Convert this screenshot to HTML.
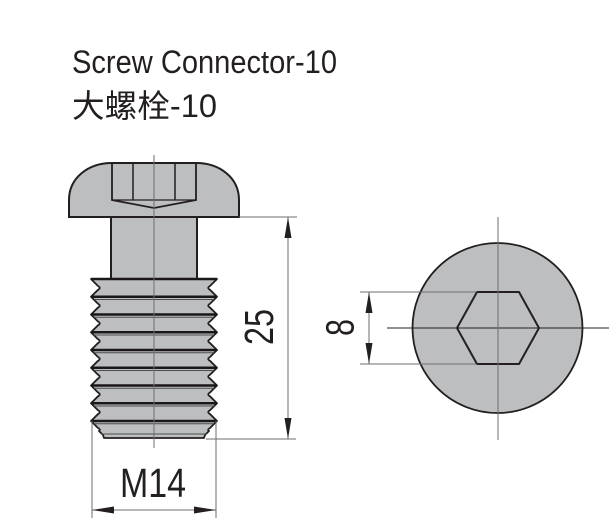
<!DOCTYPE html>
<html>
<head>
<meta charset="utf-8">
<style>
  html, body { margin: 0; padding: 0; background: #ffffff; }
  svg { display: block; }
  text { font-family: "Liberation Sans", "Noto Sans CJK SC", sans-serif; fill: #231f20; }
</style>
</head>
<body>
<svg width="616" height="532" viewBox="0 0 616 532" xmlns="http://www.w3.org/2000/svg">
  <!-- Titles -->
  <text x="72" y="73" font-size="32" textLength="265" lengthAdjust="spacingAndGlyphs">Screw Connector-10</text>
  <text x="72" y="117" font-size="32" textLength="145" lengthAdjust="spacingAndGlyphs">大螺栓-10</text>

  <!-- ===== Side view of screw ===== -->
  <!-- Head -->
  <path d="M69,217 L69,200 C69,178 88,163 112,163 L196,163 C220,163 239,178 239,200 L239,217 Z"
        fill="#bcbec0" stroke="#231f20" stroke-width="2"/>
  <!-- Recess -->
  <path d="M112,163 L112,200 L154,208 L196,200 L196,163" fill="none" stroke="#231f20" stroke-width="1.8"/>
  <line x1="112" y1="200" x2="196" y2="200" stroke="#231f20" stroke-width="1.2"/>
  <line x1="133" y1="163" x2="133" y2="200" stroke="#231f20" stroke-width="1.5"/>
  <line x1="175" y1="163" x2="175" y2="200" stroke="#231f20" stroke-width="1.5"/>

  <!-- Shank -->
  <rect x="111" y="217" width="86" height="62" fill="#bcbec0" stroke="#231f20" stroke-width="2"/>

  <!-- Thread body -->
  <path d="M91,279
    L98,286 Q101.5,287.9 98,289.8 L91,296.75
    L98,303.75 Q101.5,305.65 98,307.55 L91,314.5
    L98,321.5 Q101.5,323.4 98,325.3 L91,332.25
    L98,339.25 Q101.5,341.15 98,343.05 L91,350
    L98,357 Q101.5,358.9 98,360.8 L91,367.75
    L98,374.75 Q101.5,376.65 98,378.55 L91,385.5
    L98,392.5 Q101.5,394.4 98,396.3 L91,403.25
    L98,410.25 Q101.5,412.15 98,414.05 L91,421
    L98,428 Q101,429.5 99,431 L103,435 L104,438 L204,438 L205,435 L209,431 Q207,429.5 210,428 L217,421
    L210,414.05 Q206.5,412.15 210,410.25 L217,403.25
    L210,396.3 Q206.5,394.4 210,392.5 L217,385.5
    L210,378.55 Q206.5,376.65 210,374.75 L217,367.75
    L210,360.8 Q206.5,358.9 210,357 L217,350
    L210,343.05 Q206.5,341.15 210,339.25 L217,332.25
    L210,325.3 Q206.5,323.4 210,321.5 L217,314.5
    L210,307.55 Q206.5,305.65 210,303.75 L217,296.75
    L210,289.8 Q206.5,287.9 210,286 L217,279 Z"
    fill="#bcbec0" stroke="#231f20" stroke-width="1.8" stroke-linejoin="round"/>
  <!-- Crest lines -->
  <g stroke="#1a1718" stroke-width="2.6">
    <line x1="91" y1="279" x2="217" y2="279"/>
    <line x1="91" y1="296.75" x2="217" y2="296.75"/>
    <line x1="91" y1="314.5" x2="217" y2="314.5"/>
    <line x1="91" y1="332.25" x2="217" y2="332.25"/>
    <line x1="91" y1="350" x2="217" y2="350"/>
    <line x1="91" y1="367.75" x2="217" y2="367.75"/>
    <line x1="91" y1="385.5" x2="217" y2="385.5"/>
    <line x1="91" y1="403.25" x2="217" y2="403.25"/>
    <line x1="91" y1="421" x2="217" y2="421"/>
  </g>
  <g stroke="#4d4d4f" stroke-width="1">
    <line x1="94" y1="299.5" x2="214" y2="299.5"/>
    <line x1="94" y1="317.2" x2="214" y2="317.2"/>
    <line x1="94" y1="335" x2="214" y2="335"/>
    <line x1="94" y1="352.7" x2="214" y2="352.7"/>
    <line x1="94" y1="370.5" x2="214" y2="370.5"/>
    <line x1="94" y1="388.2" x2="214" y2="388.2"/>
    <line x1="94" y1="406" x2="214" y2="406"/>
    <line x1="94" y1="423.7" x2="214" y2="423.7"/>
    <line x1="101" y1="434" x2="207" y2="434"/>
  </g>

  <!-- Centre line of screw -->
  <line x1="154" y1="155" x2="154" y2="448" stroke="#6d6e71" stroke-width="1"/>

  <!-- 25 dimension -->
  <g stroke="#6d6e71" stroke-width="1">
    <line x1="239" y1="217" x2="297" y2="217"/>
    <line x1="206" y1="439" x2="296" y2="439"/>
    <line x1="288" y1="217" x2="288" y2="439"/>
  </g>
  <polygon points="288,217 284.5,238 291.5,238" fill="#231f20"/>
  <polygon points="288,439 284.5,418 291.5,418" fill="#231f20"/>
  <text transform="translate(273,327) rotate(-90)" font-size="41" text-anchor="middle" textLength="36" lengthAdjust="spacingAndGlyphs">25</text>

  <!-- M14 dimension -->
  <g stroke="#6d6e71" stroke-width="1">
    <line x1="92" y1="421" x2="92" y2="518"/>
    <line x1="216" y1="421" x2="216" y2="518"/>
    <line x1="92" y1="510" x2="216" y2="510"/>
  </g>
  <polygon points="92,510 114,506.5 114,513.5" fill="#231f20"/>
  <polygon points="216,510 194,506.5 194,513.5" fill="#231f20"/>
  <text x="153" y="497" font-size="41" text-anchor="middle" textLength="66" lengthAdjust="spacingAndGlyphs">M14</text>

  <!-- ===== Top view ===== -->
  <circle cx="497.5" cy="328" r="85" fill="#bcbec0" stroke="#231f20" stroke-width="1.8"/>
  <polygon points="477,292 519,292 539,328 519,364 477,364 457,328" fill="none" stroke="#231f20" stroke-width="2"/>
  <line x1="387" y1="328" x2="609" y2="328" stroke="#231f20" stroke-width="1"/>
  <line x1="498" y1="217" x2="498" y2="440" stroke="#6d6e71" stroke-width="1"/>

  <!-- 8 dimension -->
  <g stroke="#6d6e71" stroke-width="1">
    <line x1="360" y1="292" x2="477" y2="292"/>
    <line x1="360" y1="364" x2="477" y2="364"/>
    <line x1="369" y1="292" x2="369" y2="364"/>
  </g>
  <polygon points="369,292 365.5,313 372.5,313" fill="#231f20"/>
  <polygon points="369,364 365.5,343 372.5,343" fill="#231f20"/>
  <text transform="translate(353.5,327.5) rotate(-90)" font-size="40" text-anchor="middle" textLength="17" lengthAdjust="spacingAndGlyphs">8</text>
</svg>
</body>
</html>
